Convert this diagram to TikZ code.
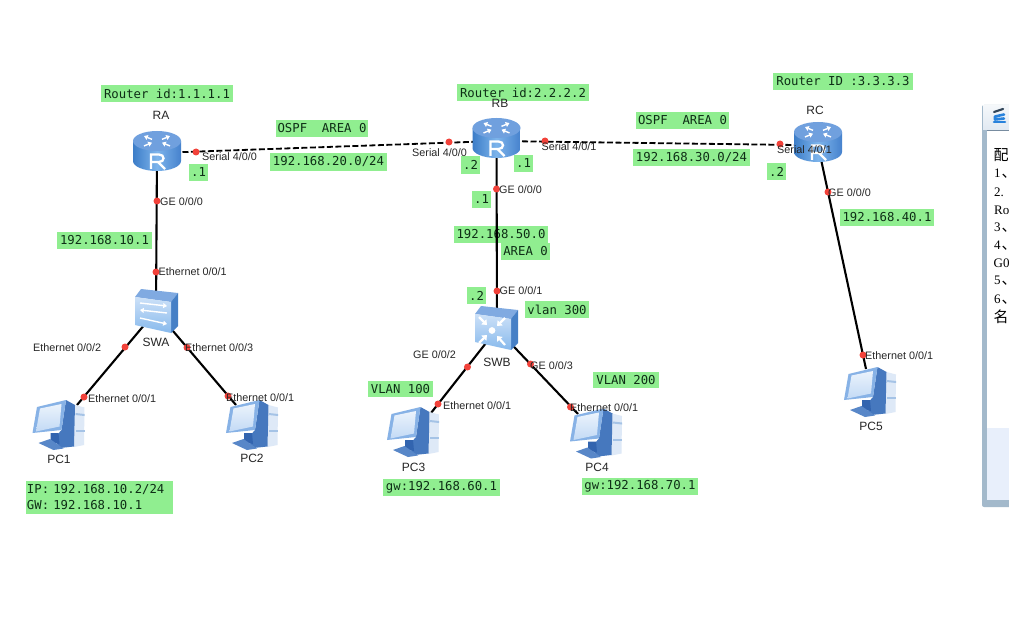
\documentclass[tikz,border=0pt]{standalone}
\usepackage{fontspec}
\setmainfont{Liberation Serif}
\setsansfont{Liberation Sans}
\setmonofont{DejaVu Sans Mono}
\newfontfamily\cjkfont{Noto Sans CJK SC}
\usetikzlibrary{arrows.meta}
\definecolor{labelgreen}{HTML}{90EE90}
\definecolor{portred}{HTML}{F2423A}
\definecolor{greentext}{HTML}{0E2E16}
\definecolor{wframe}{HTML}{A3B9CB}
\definecolor{wpanel}{HTML}{E8EFFB}
\definecolor{wline}{HTML}{788CA0}
\definecolor{wtitlea}{HTML}{F4F7FA}
\definecolor{wtitle}{HTML}{E1E9F2}
\definecolor{wdark}{HTML}{32465A}
\definecolor{wblue}{HTML}{2882DC}
\definecolor{rside}{HTML}{3C7DC8}
\definecolor{rsideb}{HTML}{4682CD}
\definecolor{rmid}{HTML}{7DB4EB}
\definecolor{rtop}{HTML}{70A0DE}
\definecolor{stop}{HTML}{80AAE1}
\definecolor{sright}{HTML}{4680C6}
\definecolor{sfronta}{HTML}{CDE1F8}
\definecolor{sfrontb}{HTML}{87B9EC}
\definecolor{pctower}{HTML}{DEE9F7}
\definecolor{pcband}{HTML}{A5C3E6}
\definecolor{pcback}{HTML}{4678BE}
\definecolor{pcneck}{HTML}{3264AF}
\definecolor{pcbase}{HTML}{5887C8}
\definecolor{pcframe}{HTML}{87B2E6}
\definecolor{pcscra}{HTML}{EBF3FC}
\definecolor{pcscrb}{HTML}{C3DAF5}
\newcommand{\numcell}[1]{\makebox[7.5pt][l]{\fontsize{13}{16}\selectfont #1}}
\tikzset{
  devpoint/.style={inner sep=0pt,outer sep=0pt,minimum size=0pt},
  greenlabel/.style={fill=labelgreen,text=greentext,inner sep=0pt,outer sep=0pt,
    font=\fontsize{12.3}{16}\selectfont\ttfamily},
  portdot/.style={circle,fill=portred,inner sep=0pt,outer sep=0pt,minimum size=7pt},
  portlabel/.style={anchor=west,inner sep=0pt,text=black!85,font=\fontsize{10.8}{12}\selectfont\sffamily},
  devlabel/.style={inner sep=0pt,text=black!85,font=\fontsize{12}{13}\selectfont\sffamily},
  winline/.style={anchor=west,inner sep=0pt,font=\fontsize{15}{16}\selectfont},
  winlatin/.style={anchor=west,inner sep=0pt,font=\fontsize{13}{16}\selectfont},
  wire/.style={black,line width=2.1pt},
  serialwire/.style={black,line width=1.8pt,dash pattern=on 6pt off 2.5pt},
  whitearrow/.style={white,line width=1.4pt,-{Triangle[length=3.8pt,width=5pt]}},
  whitefat/.style={white,line width=2.2pt,-{Triangle[length=4.5pt,width=7pt]}},
  routericon/.pic={
    \shade[left color=rside,right color=rsideb,middle color=rmid]
      (-24,-10) -- (-24,10) arc[start angle=180,end angle=0,x radius=24,y radius=10] -- (24,-10) -- cycle;
    \fill[rtop] (0,-10) ellipse[x radius=24,y radius=10];
    \begin{scope}[shift={(0,-10)},yscale=.55]
      \draw[whitearrow] (-5,-3) -- (-13,-9);
      \draw[whitearrow] (13,9) -- (5,3);
      \draw[whitearrow] (5,-3) -- (13,-9);
      \draw[whitearrow] (-13,9) -- (-5,3);
    \end{scope}
    \draw[white,line width=2.3pt,line join=miter] (-6,18) -- (-6,3.5) -- (2,3.5)
      .. controls (8,3.5) and (8,11) .. (2,11) -- (-6,11);
    \draw[white,line width=2.3pt] (1,11) -- (8,18);
  },
  switchbody/.pic={
    \fill[stop] (-21,-14) -- (-15,-22) -- (22,-18) -- (15,-9) -- cycle;
    \fill[sright] (15,-9) -- (22,-18) -- (22,15) -- (15,22) -- cycle;
    \shade[top color=sfronta,bottom color=sfrontb]
      (-21,-14) -- (15,-9) -- (15,22) -- (-21,14) -- cycle;
  },
  l2icon/.pic={
    \pic {switchbody};
    \draw[whitearrow] (-16,-8) -- (11,-5);
    \draw[whitearrow] (11,2) -- (-16,-1);
    \draw[whitearrow] (-16,7) -- (11,13);
  },
  l3icon/.pic={
    \pic {switchbody};
    \fill[white] (-4,2.5) circle[radius=3.4];
    \draw[whitefat] (-17,-11) -- (-9,-3);
    \draw[whitefat] (9,-10) -- (1,-2);
    \draw[whitefat] (-17,15) -- (-9,7);
    \draw[whitefat] (9,17) -- (1,8);
  },
  pcicon/.pic={
    \fill[pctower] (16.5,-20) -- (26,-17.5) -- (25.5,20) -- (15.5,22) -- cycle;
    \fill[pcband] (17,-12) -- (26,-11) -- (26,-9) -- (17,-10) -- cycle;
    \fill[pcband] (17,5) -- (26,5) -- (26,7) -- (17,7) -- cycle;
    \fill[pcback] (7.5,-25) -- (16.5,-20) -- (15.5,21.5) -- (1.5,23) -- (-5,14) -- (3,5) -- cycle;
    \fill[pcneck] (-8,8) -- (0,8) -- (1,19) -- (-8,17) -- cycle;
    \fill[pcbase] (-20,18) -- (-8.5,14) -- (5,23.5) -- (-5,25) -- cycle;
    \fill[pcframe] (-21.5,-18) -- (7.5,-25) -- (3,5) -- (-26,8) -- cycle;
    \shade[top color=pcscra,bottom color=pcscrb]
      (-18.5,-16.5) -- (3,-21) -- (1,1.5) -- (-22.5,6.5) -- cycle;
  },
}
\begin{document}
\begin{tikzpicture}[x=1pt,y=-1pt]
\useasboundingbox (0,0) rectangle (1009,631);
\fill[white] (0,0) rectangle (1009,631);

% devices
\node[devpoint] (ra) at (157,153) {};
\node[devpoint] (rb) at (496.5,141) {};
\node[devpoint] (rc) at (818,145.3) {};
\node[devpoint] (swa) at (156,311) {};
\node[devpoint] (swb) at (497,329) {};
\node[devpoint] (pc1) at (77,405) {};
\node[devpoint] (pc2) at (236,405) {};
\node[devpoint] (pc3) at (431,413) {};
\node[devpoint] (pc4) at (578,414) {};
\node[devpoint] (pc5) at (866,369) {};

% green notes
\node[greenlabel,minimum width=132pt,minimum height=17pt] (n1) at (167,93.5) {Router id:1.1.1.1};
\node[greenlabel,minimum width=92pt,minimum height=17pt] (n2) at (322,128.5) {OSPF\ \ AREA 0};
\node[greenlabel,minimum width=117pt,minimum height=18pt] (n3) at (328.5,162) {192.168.20.0/24};
\node[greenlabel,minimum width=19pt,minimum height=17pt] (n4) at (198.5,172.5) {.1};
\node[greenlabel,minimum width=95pt,minimum height=17pt] (n5) at (104.5,240.5) {192.168.10.1};
\node[greenlabel,minimum width=132pt,minimum height=17pt] (n6) at (523,92.5) {Router id:2.2.2.2};
\node[greenlabel,minimum width=19pt,minimum height=18pt] (n7) at (470.5,165) {.2};
\node[greenlabel,minimum width=19pt,minimum height=17pt] (n8) at (523.5,163.5) {.1};
\node[greenlabel,minimum width=19pt,minimum height=17pt] (n9) at (481.5,199.5) {.1};
\node[greenlabel,minimum width=94pt,minimum height=17pt] (n10) at (501,234.5) {192.168.50.0};
\node[greenlabel,minimum width=49pt,minimum height=17pt] (n11) at (525.5,251.5) {AREA 0};
\node[greenlabel,minimum width=19pt,minimum height=17pt] (n12) at (476.5,295.5) {.2};
\node[greenlabel,minimum width=64pt,minimum height=17pt] (n13) at (557,309.5) {vlan 300};
\node[greenlabel,minimum width=65pt,minimum height=16pt] (n14) at (400.5,389) {VLAN 100};
\node[greenlabel,minimum width=66pt,minimum height=16pt] (n15) at (626,380) {VLAN 200};
\node[greenlabel,minimum width=117pt,minimum height=17pt] (n16) at (441.5,487.5) {gw:192.168.60.1};
\node[greenlabel,minimum width=116pt,minimum height=17pt] (n17) at (640,486.5) {gw:192.168.70.1};
\node[greenlabel,text width=145pt,minimum height=33pt,align=left,inner xsep=1pt] (n18) at (99.5,497.5) {IP: 192.168.10.2/24\\GW: 192.168.10.1};
\node[greenlabel,minimum width=93pt,minimum height=17pt] (n19) at (682.5,120.5) {OSPF\ \ AREA 0};
\node[greenlabel,minimum width=117pt,minimum height=17pt] (n20) at (691.5,158) {192.168.30.0/24};
\node[greenlabel,minimum width=140pt,minimum height=17pt] (n21) at (843,81.5) {Router ID :3.3.3.3};
\node[greenlabel,minimum width=19pt,minimum height=17pt] (n22) at (776.5,171.5) {.2};
\node[greenlabel,minimum width=94pt,minimum height=17pt] (n23) at (887,217.5) {192.168.40.1};

% connectors
\draw[serialwire] (ra) -- (rb);
\draw[serialwire] (rb) -- (rc);
\draw[wire] (ra) -- (swa);
\draw[wire] (rb) -- (swb);
\draw[wire] (rc) -- (pc5);
\draw[wire] (swa) -- (pc1);
\draw[wire] (swa) -- (pc2);
\draw[wire] (swb) -- (pc3);
\draw[wire] (swb) -- (pc4);

% icons
\pic at (157,151) {routericon};
\pic at (496.5,138) {routericon};
\pic at (818,142) {routericon};
\pic at (156,311) {l2icon};
\pic at (496,328) {l3icon};
\pic at (58.5,425) {pcicon};
\pic at (252,425) {pcicon};
\pic at (413,432) {pcicon};
\pic at (596,433.5) {pcicon};
\pic at (870,392) {pcicon};

% port dots
\foreach \n/\p in {d1/{196,152},d2/{157,201},d3/{156,272},d4/{449,142},d5/{545,141},d6/{496.5,189},
  d7/{497,291},d8/{780,144},d9/{828,192},d10/{863,355},d11/{125,347},d12/{187,347.5},d13/{84,397},
  d14/{228,396},d15/{467.5,367},d16/{530.5,364},d17/{438,404},d18/{570.5,407}}
  \node[portdot] (\n) at (\p) {};

% port labels
\node[portlabel] (l1) at (202,156.5) {Serial 4/0/0};
\node[portlabel] (l2) at (160,201.5) {GE 0/0/0};
\node[portlabel] (l3) at (158.5,272) {Ethernet 0/0/1};
\node[portlabel] (l4) at (33,347.5) {Ethernet 0/0/2};
\node[portlabel] (l5) at (185,348) {Ethernet 0/0/3};
\node[portlabel] (l6) at (88,398.5) {Ethernet 0/0/1};
\node[portlabel] (l7) at (226,397.5) {Ethernet 0/0/1};
\node[portlabel] (l8) at (412,152.7) {Serial 4/0/0};
\node[portlabel] (l9) at (541.5,146.7) {Serial 4/0/1};
\node[portlabel] (l10) at (499,189.5) {GE 0/0/0};
\node[portlabel] (l11) at (499.5,291) {GE 0/0/1};
\node[portlabel] (l12) at (413,354.5) {GE 0/0/2};
\node[portlabel] (l13) at (530,365.5) {GE 0/0/3};
\node[portlabel] (l14) at (443,405.5) {Ethernet 0/0/1};
\node[portlabel] (l15) at (570,407.5) {Ethernet 0/0/1};
\node[portlabel] (l16) at (777,149.5) {Serial 4/0/1};
\node[portlabel] (l17) at (828,192.5) {GE 0/0/0};
\node[portlabel] (l18) at (865,355.5) {Ethernet 0/0/1};

% device names
\node[devlabel] (t1) at (161,115) {RA};
\node[devlabel] (t2) at (500,103) {RB};
\node[devlabel] (t3) at (815,110) {RC};
\node[devlabel] (t4) at (156,342) {SWA};
\node[devlabel] (t5) at (497,362) {SWB};
\node[devlabel] (t6) at (59,459) {PC1};
\node[devlabel] (t7) at (252,458) {PC2};
\node[devlabel] (t8) at (413.5,467) {PC3};
\node[devlabel] (t9) at (597,467) {PC4};
\node[devlabel] (t10) at (871,426) {PC5};

% window at the right edge
\begin{scope}
\clip (0,0) rectangle (1009,631);
\fill[rounded corners=2pt,wframe] (982,105) rectangle (1030,507);
\shade[top color=wtitlea,bottom color=wtitle] (983,106) rectangle (1030,130);
\fill[white] (987,131) rectangle (1030,428);
\fill[wpanel] (987,428) rectangle (1030,500);
\draw[wline,line width=.8pt] (986.5,130.5) -- (1030,130.5);
% title icon
\draw[wdark,line width=2.2pt,line cap=round] (994,112) -- (1003,109);
\draw[wblue,line width=2.6pt,line cap=round,line join=round] (1004,114.5) -- (995,116.5) -- (995,119.5) -- (1004,118.5);
\draw[wblue,line width=2.6pt,line cap=round] (994,122) -- (1005,122);
% window text
\node[winline] (w1) at (993.5,155) {\cjkfont 配};
\node[winline] (w2) at (994,174) {\numcell{1}\cjkfont 、};
\node[winlatin] (w3) at (994,192) {2.};
\node[winlatin] (w4) at (994,210) {Ro};
\node[winline] (w5) at (994,228) {\numcell{3}\cjkfont 、};
\node[winline] (w6) at (994,246) {\numcell{4}\cjkfont 、};
\node[winlatin] (w7) at (993.5,263) {G0};
\node[winline] (w8) at (994,281) {\numcell{5}\cjkfont 、};
\node[winline] (w9) at (994,300) {\numcell{6}\cjkfont 、};
\node[winline] (w10) at (993.5,317) {\cjkfont 名};
\end{scope}
\end{tikzpicture}
\end{document}
